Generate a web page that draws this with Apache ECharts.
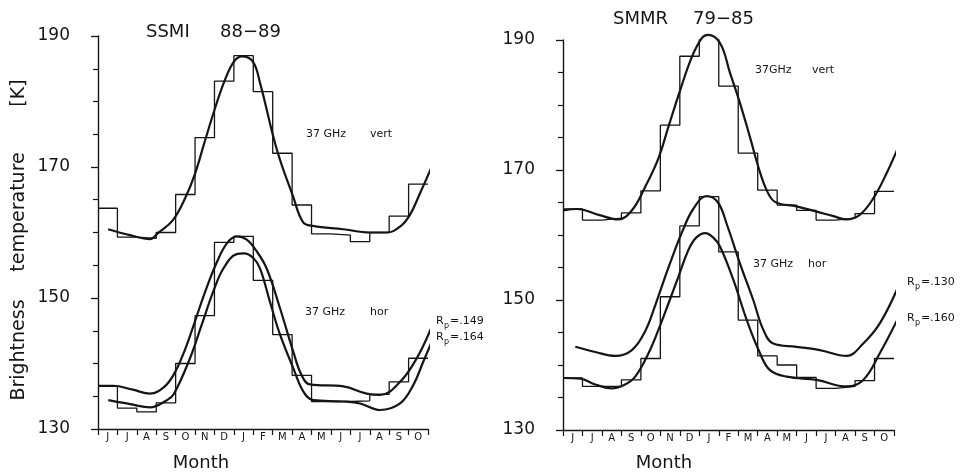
<!DOCTYPE html>
<html>
<head>
<meta charset="utf-8">
<script src="https://cdn.jsdelivr.net/npm/echarts@6/dist/echarts.min.js"></script>
<style>
  *{ margin:0px; padding:0px; }
  body{ background:#fff; }
  #main{ width:965px; height:474px; }
</style>
</head>
<body>
<div id="main"></div>
<script type="text/javascript">
// month labels, June .. October of the following year
var months = ['J','J','A','S','O','N','D','J','F','M','A','M','J','J','A','S','O'];
var yTicks = [130, 150, 170, 190];

// monthly means (the step curves), K
var ssmiVert = [163.7, 159.3, 159.1, 160.0, 165.8, 174.5, 183.1, 187.0, 181.5, 172.1, 164.2, 159.8, 159.6, 158.6, 160.0, 162.5, 167.4];
var ssmiHor  = [136.5, 133.2, 132.6, 134.0, 140.0, 147.3, 158.5, 159.4, 152.7, 144.4, 138.2, 134.2, 134.2, 134.3, 135.3, 137.2, 140.8];
var smmrVert = [164.0, 162.3, 162.6, 163.4, 166.8, 176.9, 187.5, 190.6, 182.9, 172.6, 166.9, 164.6, 163.8, 162.3, 162.6, 163.3, 166.7];
var smmrHor  = [138.0, 136.7, 136.7, 137.7, 141.0, 150.5, 161.4, 165.9, 157.4, 146.9, 141.4, 140.0, 138.1, 136.4, 136.7, 137.6, 141.0];

// fitted curves, [month position, K]
var ssmiVertFit = [[0.52,160.5],[1.65,159.6],[2.68,159.0],[3.09,159.9],[3.86,161.9],[4.5,165.3],[5.0,169.0],[5.5,173.9],[6.0,178.7],[6.5,183.0],[7.0,186.1],[7.42,186.9],[7.98,186.1],[8.35,182.8],[9.22,172.6],[10.05,165.5],[10.56,161.6],[11.08,161.0],[12.62,160.5],[14.01,160.0],[14.88,160.0],[15.56,160.9],[16.07,162.7],[16.59,166.0],[17.26,170.5]];
var ssmiHor149 = [[0,136.6],[0.77,136.6],[1.8,136.0],[2.68,135.4],[3.4,136.4],[3.9,138.3],[4.4,141.5],[4.9,145.6],[5.5,150.8],[6.1,155.3],[6.63,158.3],[7.14,159.4],[7.66,158.9],[8.18,157.1],[8.69,154.5],[9.38,148.4],[10.06,141.8],[10.49,138.2],[10.92,136.8],[12.64,136.5],[13.84,135.4],[14.53,135.2],[15.56,137.2],[16.42,140.8],[17.19,145.6]];
var ssmiHor164 = [[0.53,134.4],[1.65,133.8],[2.68,133.3],[3.55,134.4],[3.9,135.3],[4.74,140.8],[5.34,145.9],[5.94,151.0],[6.46,154.5],[7.14,156.7],[7.52,156.8],[8.0,156.1],[8.35,154.5],[8.86,149.4],[9.38,144.4],[10.06,139.3],[10.58,135.7],[11.09,134.4],[12.64,134.2],[13.5,133.9],[14.53,132.9],[15.56,133.9],[16.24,136.7],[16.76,140.3],[17.19,143.3]];
var smmrVertFit = [[0.03,163.8],[0.72,164.0],[1.83,163.1],[2.85,162.4],[3.54,163.8],[4.22,167.4],[4.9,171.8],[5.42,176.7],[6.02,182.3],[6.62,187.4],[7.13,190.3],[7.45,190.8],[8.07,189.5],[8.58,184.9],[9.09,180.3],[9.6,175.1],[10.03,170.5],[10.46,166.9],[10.89,165.1],[12.0,164.4],[13.03,163.6],[13.88,162.9],[14.56,162.4],[15.24,163.1],[15.93,165.6],[16.62,169.5],[17.3,174.1]];
var smmrHor130 = [[0.63,142.8],[1.66,142.0],[2.68,141.4],[3.54,142.3],[4.22,145.2],[4.75,149.3],[5.25,153.6],[5.7,157.3],[6.15,160.7],[6.69,164.0],[7.38,166.0],[7.96,165.0],[8.43,161.5],[9.09,155.6],[9.77,150.0],[10.29,145.4],[10.8,143.3],[12.0,142.8],[13.19,142.3],[14.56,141.4],[15.42,143.3],[16.27,146.4],[17.21,152.0]];
var smmrHor160 = [[0,138.0],[0.89,137.9],[1.66,137.0],[2.51,136.4],[3.19,137.0],[3.71,138.2],[4.39,141.8],[4.9,145.4],[5.42,149.5],[5.93,153.6],[6.44,157.7],[6.84,159.6],[7.31,160.3],[7.72,159.6],[8.07,158.2],[8.75,153.1],[9.44,146.9],[10.12,141.8],[10.63,139.2],[11.49,138.2],[13.03,137.7],[14.56,136.7],[15.42,137.7],[16.27,141.8],[17.21,147.2]];

var ink = '#151515';
var font = 'DejaVu Sans';

function stepData(vals){
    var d = vals.map(function(v, i){ return [i, v]; });
    d.push([vals.length, vals[vals.length - 1]]);
    return d;
}
function stepSeries(vals, xi, yi){
    return { type:'line', step:'end', data: stepData(vals), xAxisIndex: xi, yAxisIndex: yi,
             showSymbol:false, silent:true, lineStyle:{ color: ink, width: 1.3 } };
}
function fitSeries(pts, xi, yi){
    return { type:'line', smooth:0.4, data: pts, xAxisIndex: xi, yAxisIndex: yi, clip:false,
             showSymbol:false, silent:true, lineStyle:{ color: ink, width: 2.2 } };
}
function catAxis(g){
    return { type:'category', gridIndex:g, data: months, boundaryGap:true, position:'bottom',
             axisLine:{ lineStyle:{ color: ink, width:1.3 } },
             axisTick:{ show:true, length:6, lineStyle:{ color: ink, width:1.2 } },
             axisLabel:{ color: ink, fontFamily: font, fontSize:10, margin:3 },
             splitLine:{ show:false } };
}
function valX(g){
    return { type:'value', gridIndex:g, min:0, max:17, show:false };
}
function yAx(g, off, margin){
    return { type:'value', gridIndex:g, min:130, max:190, interval:20, offset: off,
             axisLine:{ show:true, lineStyle:{ color: ink, width:1.4 } },
             axisTick:{ show:true, length:7, lineStyle:{ color: ink, width:1.3 } },
             minorTick:{ show:true, splitNumber:4, length:5, lineStyle:{ color: ink, width:1.2 } },
             axisLabel:{ color: ink, fontFamily: font, fontSize:17, margin: margin,
                         formatter: function(v){ return yTicks.indexOf(v) >= 0 ? String(v) : ''; } },
             splitLine:{ show:false }, minorSplitLine:{ show:false } };
}
function txt(x, y, s, size, extra){
    var st = { text: s, fill: ink, font: size + 'px "' + font + '"', align:'left', verticalAlign:'middle' };
    if (extra) { for (var k in extra) st[k] = extra[k]; }
    return { type:'text', x:x, y:y, silent:true, style: st };
}
function rp(x, y, val){
    return [ txt(x, y, 'R', 11), txt(x + 8, y + 5, 'p', 8), txt(x + 14, y, '=.' + val, 11) ];
}

var myChart = echarts.init(document.getElementById('main'));

var graphics = [
    txt(146, 32, 'SSMI', 18), txt(220, 32, '88\u221289', 18),
    txt(613, 19, 'SMMR', 18), txt(693, 19, '79\u221285', 18),
    txt(201, 463, 'Month', 18, { align:'center' }),
    txt(664, 463, 'Month', 18, { align:'center' }),
    txt(306, 134, '37 GHz', 11), txt(370, 134, 'vert', 11),
    txt(305, 312, '37 GHz', 11), txt(370, 312, 'hor', 11),
    txt(755, 70, '37GHz', 11), txt(812, 70, 'vert', 11),
    txt(753, 264, '37 GHz', 11), txt(808, 264, 'hor', 11)
];
// rotated axis title
[['Brightness', 350], ['temperature', 212], ['[K]', 93]].forEach(function(p){
    var t = txt(19, p[1], p[0], 19, { align:'center' });
    t.rotation = Math.PI / 2;
    graphics.push(t);
});
graphics = graphics.concat(rp(436, 321, '149'), rp(436, 337, '164'), rp(907, 282, '130'), rp(907, 318, '160'));

myChart.setOption({
    backgroundColor:'#fff',
    animation:false,
    grid:[
        { left:98, top:36, width:330, height:393 },
        { left:563, top:40, width:331, height:390 }
    ],
    xAxis:[ catAxis(0), valX(0), catAxis(1), valX(1) ],
    yAxis:[ yAx(0, 19, 9), yAx(1, 17, 11) ],
    series:[
        stepSeries(ssmiVert, 1, 0),
        stepSeries(ssmiHor, 1, 0),
        fitSeries(ssmiVertFit, 1, 0),
        fitSeries(ssmiHor149, 1, 0),
        fitSeries(ssmiHor164, 1, 0),
        stepSeries(smmrVert, 3, 1),
        stepSeries(smmrHor, 3, 1),
        fitSeries(smmrVertFit, 3, 1),
        fitSeries(smmrHor130, 3, 1),
        fitSeries(smmrHor160, 3, 1)
    ],
    graphic: graphics
});
</script>
</body>
</html>
